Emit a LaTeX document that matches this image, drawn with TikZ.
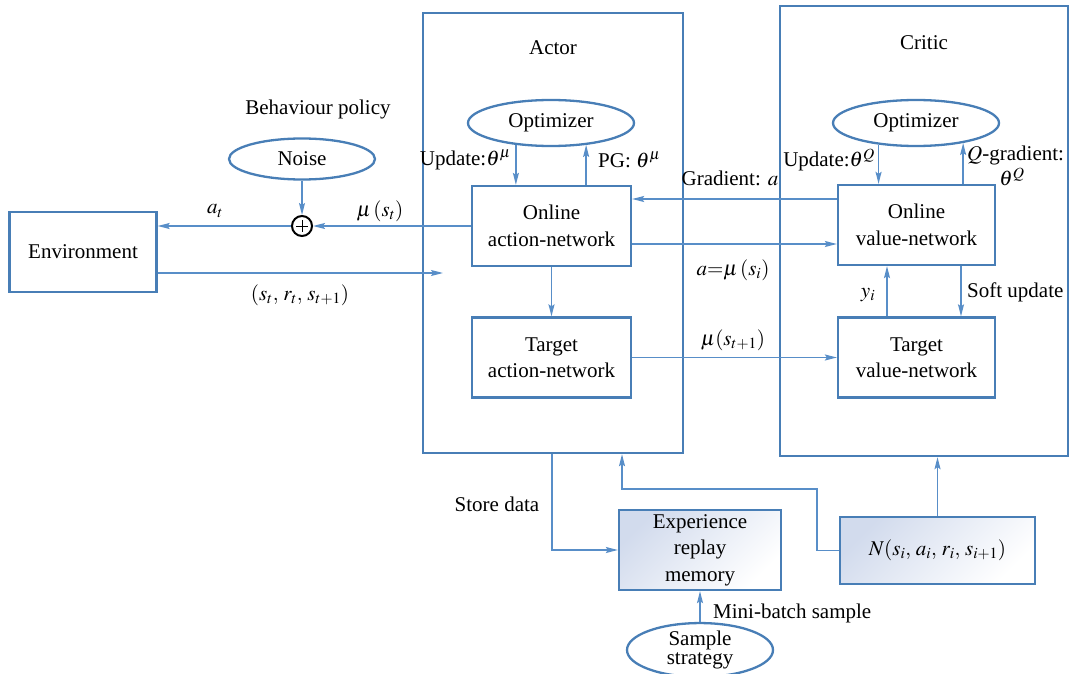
\documentclass[tikz,border=0pt]{standalone}
\usepackage{mathptmx}
\usepackage{fontspec}
\setmainfont{Liberation Serif}
\usetikzlibrary{arrows.meta,shapes.geometric,calc}
\definecolor{bordc}{RGB}{72,126,182}
\definecolor{arrc}{RGB}{88,142,200}
\definecolor{shadec}{RGB}{210,219,237}
\newcommand{\fs}{\fontsize{21}{26.5}\selectfont}
\begin{document}
\begin{tikzpicture}[x=1pt,y=-1pt,
  every node/.style={font=\fs},
  box/.style={draw=bordc, line width=2.3pt, minimum width=159, minimum height=80, align=center, inner sep=2pt},
  bigbox/.style={draw=bordc, line width=2.4pt},
  ell/.style={ellipse, draw=bordc, line width=2.3pt, minimum width=166, minimum height=46, inner sep=0pt, align=center},
  arr/.style={draw=arrc, line width=1.4pt, -{Stealth[length=12pt,width=6pt,inset=2pt]}},
  lbl/.style={inner sep=1pt}]
\useasboundingbox (0,0) rectangle (1070,674);

% big boxes
\node[bigbox, minimum width=260, minimum height=440] (actor) at (553,233) {};
\node[bigbox, minimum width=288, minimum height=450] (critic) at (924,231) {};
\node[lbl] (actl) at (553,48) {Actor};
\node[lbl] (crl) at (924,43) {Critic};

% nodes
\node[box, minimum width=147] (env) at (83,252) {Environment};
\node[box] (oa) at (551.5,226) {Online\\action-network};
\node[box] (ta) at (551.5,357.5) {Target\\action-network};
\node[box, minimum width=157] (ov) at (916.5,225) {Online\\value-network};
\node[box, minimum width=157] (tv) at (916.5,357.5) {Target\\value-network};
\node[box, minimum width=162, top color=shadec, bottom color=white, shading angle=45] (exp) at (700,550) {Experience\\replay\\memory};
\node[box, minimum width=195, minimum height=67, top color=shadec, bottom color=white, shading angle=45] (nb) at (937.5,550.5) {$N(s_i,\,a_i,\,r_i,\,s_{i+1})$};
\node[ell] (opa) at (551,123) {Optimizer};
\node[ell] (opc) at (916,123) {Optimizer};
\node[ell, minimum width=146, minimum height=41] (noise) at (302,159) {Noise};
\node[ell, minimum width=146, minimum height=45, font=\fontsize{21}{19}\selectfont] (ss) at (700,650) {Sample\\strategy};
\node[circle, draw=black, line width=2pt, minimum size=20, inner sep=0pt] (sum) at (302,226) {};
\draw[black, line width=1pt] ($(sum.center)+(-6,0)$) -- ($(sum.center)+(6,0)$)
  ($(sum.center)+(0,-6)$) -- ($(sum.center)+(0,6)$);

\node[lbl] (beh) at (318,109) {Behaviour policy};

% connectors
\draw[arr] (oa.west) -- (sum.east);
\draw[arr] (sum.west) -- (env.east |- sum);
\draw[arr] (noise.south) -- (sum.north);
\coordinate (envin) at (443,273);
\draw[arr] (env.east |- envin) -- (envin);

\draw[arr] (opa.-148) -- (oa.north -| opa.-148);
\draw[arr] (oa.north -| opa.-32) -- (opa.-32);
\draw[arr] (opc.-150) -- (ov.north -| opc.-150);
\draw[arr] (ov.north -| opc.-23) -- (opc.-23);

\draw[arr] ([yshift=26pt]ov.west) -- ([yshift=26pt]ov.west -| oa.east);
\draw[arr] ([yshift=-18pt]oa.east) -- ([yshift=-18pt]oa.east -| ov.west);
\draw[arr] (ta.east) -- (tv.west);
\draw[arr] (oa.south) -- (ta.north);
\draw[arr] ([xshift=-29.5pt]tv.north) -- ([xshift=-29.5pt]ov.south);
\draw[arr] ([xshift=44.5pt]ov.south) -- ([xshift=44.5pt]tv.north);

\draw[arr] ([xshift=-1pt]actor.south) |- (exp.west);
\coordinate (jx) at (817,489);
\coordinate (jy) at (622,489);
\draw[arr] (nb.west) -| (jx) -- (jy) -- (jy |- actor.south);
\draw[arr] (nb.north) -- (nb.north |- critic.south);
\draw[arr] (ss.north) -- (exp.south);

% labels
\node[lbl] at (380,211) {$\mu\,(s_t)$};
\node[lbl] at (215,211) {$a_t$};
\node[lbl] at (300,295) {$(s_t,\,r_t,\,s_{t+1})$};
\node[lbl, anchor=east] at (512,160) {Update:$\theta^{\mu}$};
\node[lbl, anchor=west] at (597,160) {PG: $\theta^{\mu}$};
\node[lbl] at (730,178) {Gradient: $a$};
\node[lbl] at (733,270) {$a{=}\mu\,(s_i)$};
\node[lbl] at (733,340) {$\mu(s_{t+1})$};
\node[lbl, anchor=east] at (876,160) {Update:$\theta^{Q}$};
\node[lbl, anchor=west] at (966,155) {$Q$-gradient:};
\node[lbl] at (1012,177) {$\theta^{Q}$};
\node[lbl] at (868,295) {$y_i$};
\node[lbl, anchor=west] at (966,292) {Soft update};
\node[lbl] at (497,504) {Store data};
\node[lbl, anchor=west] at (712,613) {Mini-batch sample};
\end{tikzpicture}
\end{document}
